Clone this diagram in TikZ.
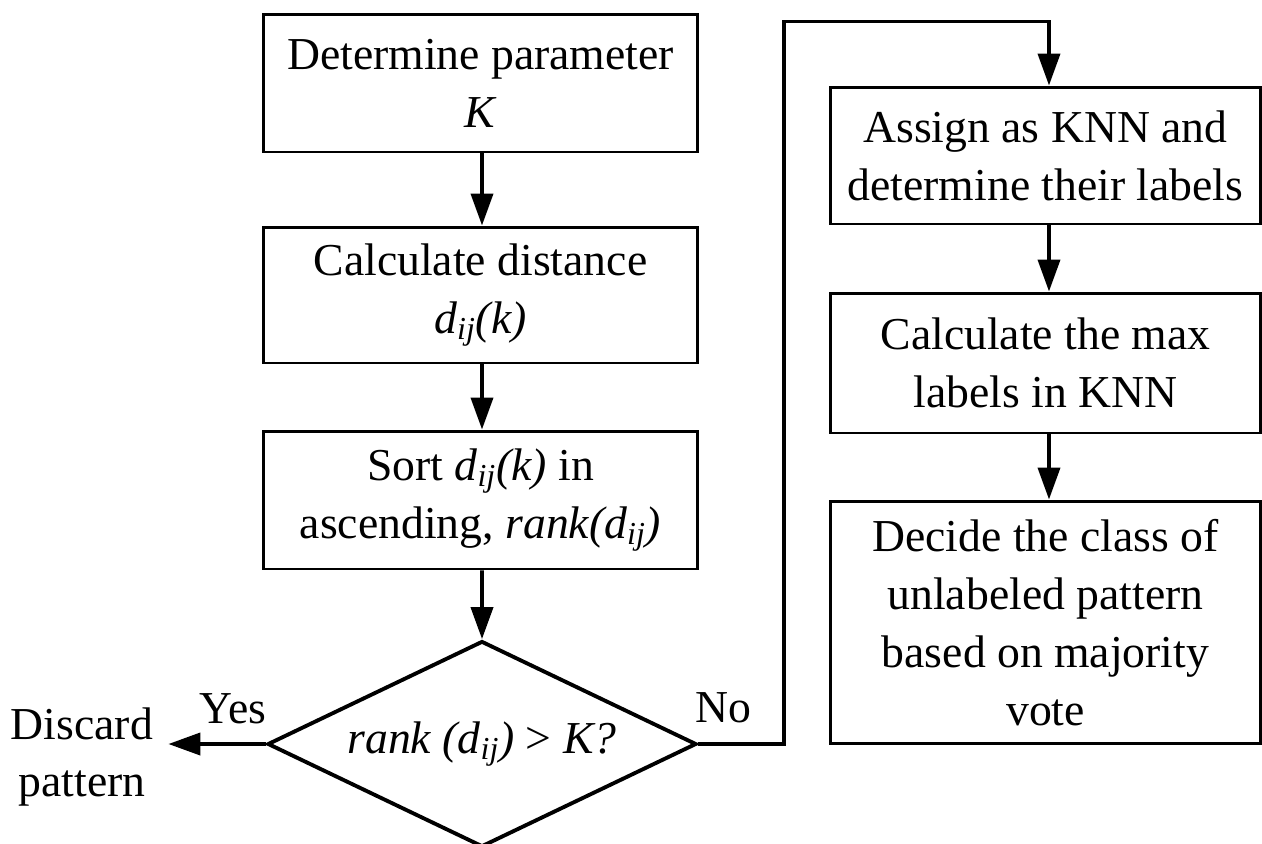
\documentclass[tikz,border=0pt]{standalone}
\usepackage{fontspec}
\setmainfont{Liberation Serif}
\usetikzlibrary{arrows.meta,shapes.geometric}

\begin{document}
\begin{tikzpicture}[x=0.02cm,y=-0.02cm,
  font=\fontsize{26}{33}\selectfont,
  box/.style={draw,line width=1.7pt,align=center,inner sep=0pt},
  leftbox/.style={box,minimum width=8.7cm},
  rightbox/.style={box,minimum width=8.62cm},
  decision/.style={draw,diamond,line width=2.2pt,inner sep=0pt,
    shape aspect=2.08,minimum width=8.58cm,minimum height=4.12cm},
  flow/.style={line width=2.2pt,-{Triangle[length=0.64cm,width=0.44cm]}},
  lbl/.style={inner sep=0pt,align=center}]
\useasboundingbox (0,0) rectangle (1262,843);

% main column
\node[leftbox,minimum height=2.76cm] (b1) at (480.5,83) {Determine parameter\\\textit{K}};
\node[leftbox,minimum height=2.72cm] (b2) at (480.5,295) {Calculate distance\\\textit{d\textsubscript{ij}(k)}};
\node[leftbox,minimum height=2.76cm] (b3) at (480.5,500) {Sort \textit{d\textsubscript{ij}(k)} in\\ascending, \textit{rank(d\textsubscript{ij})}};
\node[decision] (dec) at (482,744) {\textit{rank (d\textsubscript{ij})} > \textit{K?}};

% right column
\node[rightbox,minimum height=2.74cm] (r1) at (1045.5,155.5) {Assign as KNN and\\determine their labels};
\node[rightbox,minimum height=2.8cm] (r2) at (1045.5,363) {Calculate the max\\labels in KNN};
\node[rightbox,minimum height=4.86cm] (r3) at (1045.5,622.5) {Decide the class of\\unlabeled pattern\\based on majority\\vote};

% labels
\node[lbl] (yes) at (233,709) {Yes};
\node[lbl] (no) at (723,708) {No};
\node[lbl,inner xsep=0.3cm] (discard) at (82,757) {Discard\\pattern};

% connectors
\draw[flow] ([xshift=0.03cm]b1.south) -- ([xshift=0.03cm]b2.north);
\draw[flow] ([xshift=0.03cm]b2.south) -- ([xshift=0.03cm]b3.north);
\draw[flow] ([xshift=0.03cm]b3.south) -- (dec.north);
\draw[flow] (dec.west) -- (dec.west -| discard.east);
\draw[flow] (dec.east) -- ++(86,0) |- ([xshift=0.07cm,yshift=1.28cm]r1.north) -- ([xshift=0.07cm]r1.north);
\draw[flow] ([xshift=0.07cm]r1.south) -- ([xshift=0.07cm]r2.north);
\draw[flow] ([xshift=0.07cm]r2.south) -- ([xshift=0.07cm]r3.north);
\end{tikzpicture}
\end{document}
